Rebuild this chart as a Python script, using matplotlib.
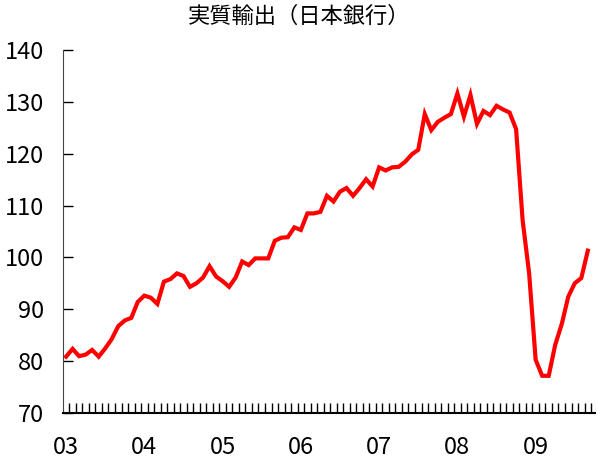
import numpy as np
import matplotlib
matplotlib.use('Agg')
import matplotlib.pyplot as plt

plt.rcParams['font.family'] = ['Noto Sans CJK JP', 'DejaVu Sans']

# 実質輸出 月次 2003年1月 - 2009年9月
values = [80.8, 82.3, 80.9, 81.2, 82.1, 80.8, 82.4, 84.2, 86.7, 87.8, 88.3, 91.4,
          92.6, 92.2, 91.0, 95.3, 95.8, 96.9, 96.4, 94.3, 95.0, 96.1, 98.3, 96.3,
          95.4, 94.3, 96.1, 99.2, 98.5, 99.8, 99.8, 99.8, 103.2, 103.8, 103.9, 105.8,
          105.3, 108.5, 108.5, 108.8, 111.9, 110.8, 112.7, 113.4, 111.9, 113.4, 115.1, 113.7,
          117.4, 116.8, 117.4, 117.5, 118.5, 119.9, 120.8, 127.7, 124.6, 126.2, 127.0, 127.7,
          131.7, 127.2, 131.4, 125.8, 128.3, 127.5, 129.3, 128.6, 128.0, 124.8, 107.2, 96.9,
          80.2, 77.1, 77.1, 83.1, 87.1, 92.4, 95.0, 96.0, 101.3]
year_labels = ['03', '04', '05', '06', '07', '08', '09']
y_ticks = [70, 80, 90, 100, 110, 120, 130, 140]

x = np.arange(len(values))

fig = plt.figure(figsize=(5.98, 4.63), dpi=100)
ax = fig.add_axes([0.106, 0.109, 0.889, 0.782])

ax.plot(x, values, color='#ff0000', linewidth=3.0, solid_joinstyle='miter')

ax.set_ylim(70, 140)
ax.set_xlim(-0.41, 81.1)
ax.set_yticks(y_ticks)
ax.set_xticks(np.arange(0, len(values), 12))
ax.set_xticklabels(year_labels)
ax.set_xticks(np.arange(len(values)) + 0.5, minor=True)

ax.tick_params(axis='y', direction='in', length=7, width=1, pad=14, labelsize=17)
ax.tick_params(axis='x', which='major', direction='in', length=0, pad=17, labelsize=17)
ax.tick_params(axis='x', which='minor', direction='in', length=7, width=1)

for s in ['top', 'right']:
    ax.spines[s].set_visible(False)
ax.spines['left'].set_color('#444444')
ax.spines['bottom'].set_color('#000000')
ax.spines['bottom'].set_linewidth(1.5)

fig.suptitle('実質輸出（日本銀行）', y=0.99, fontsize=16)

fig.savefig('out.png', dpi=100)
